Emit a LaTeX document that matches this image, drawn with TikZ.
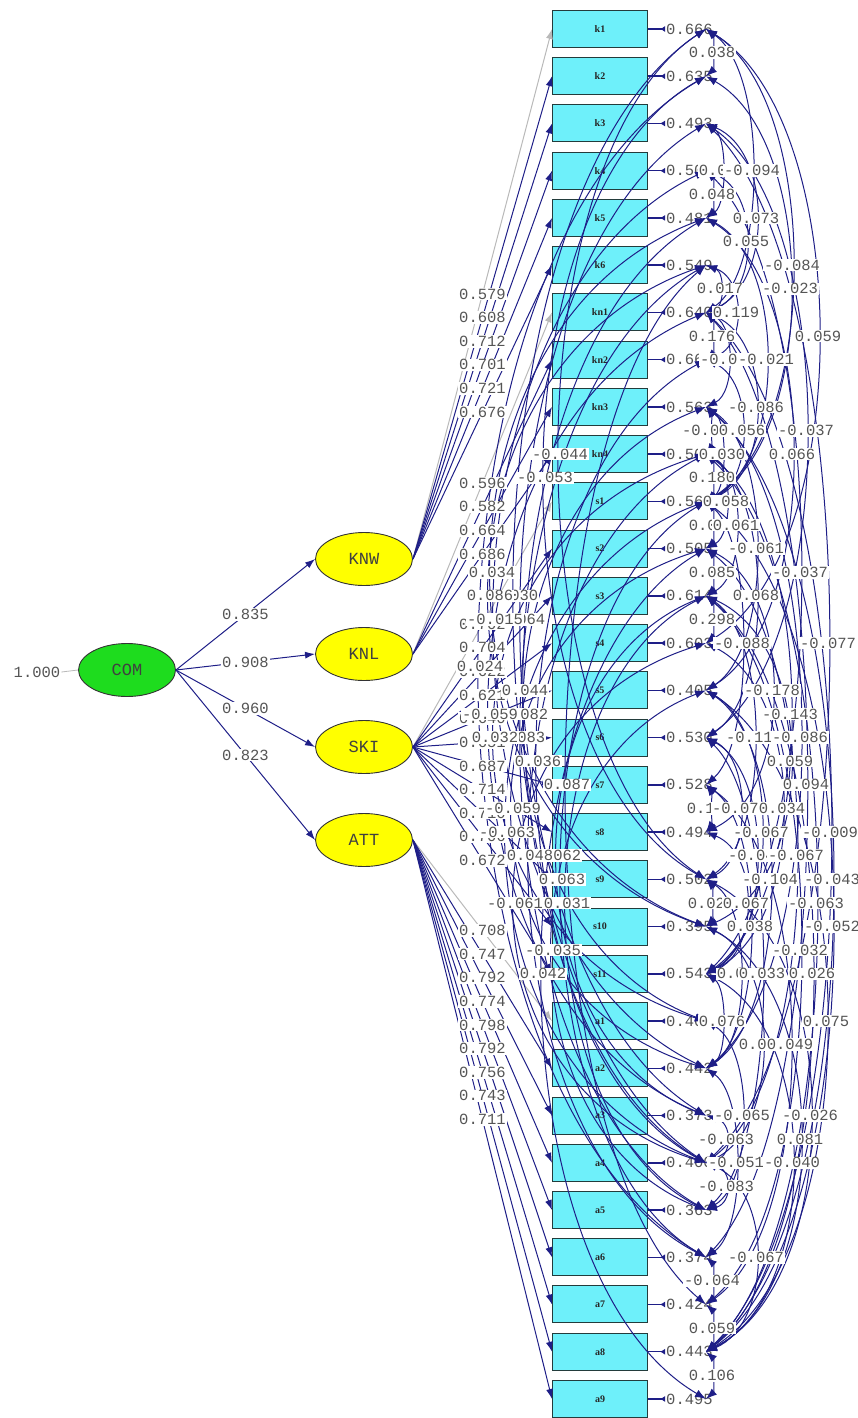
\documentclass[tikz,border=0pt]{standalone}
\usepackage{fontspec}
\usetikzlibrary{shapes.geometric,arrows.meta}
\newfontfamily\labfam{Liberation Mono}
\newfontfamily\serfam{Liberation Serif}
\newcommand{\labfont}{\labfam\fontsize{15.5}{16}\selectfont}
\newcommand{\latfont}{\labfam\fontsize{17}{17}\selectfont}
\newcommand{\boxfont}{\serfam\bfseries\fontsize{10}{10}\selectfont}
\definecolor{navy}{RGB}{30,30,135}
\definecolor{boxc}{RGB}{110,240,250}
\definecolor{boxd}{RGB}{35,60,60}
\definecolor{yel}{RGB}{255,255,0}
\definecolor{grn}{RGB}{30,220,30}
\definecolor{txt}{RGB}{85,85,85}
\definecolor{gline}{RGB}{185,185,185}
\tikzset{
  box/.style={draw=boxd, fill=boxc, minimum width=95pt, minimum height=37pt, inner sep=0pt, line width=1pt, font=\boxfont, text=black!85},
  lat/.style={ellipse, draw=black!80, line width=0.9pt, minimum width=97pt, minimum height=53pt, inner sep=0pt, font=\latfont, text=black!75},
  lab/.style={fill=white, inner sep=1pt, font=\labfont, text=txt},
  errlab/.style={inner sep=1pt, font=\labfont, text=txt},
  load/.style={draw=navy, line width=1pt, -{Latex[length=10pt,width=7pt]}},
  loadg/.style={draw=gline, line width=1pt, -{Latex[length=10pt,width=7pt]}},
  cov/.style={draw=navy, line width=1pt, {Latex[length=11pt,width=8pt]}-{Latex[length=11pt,width=8pt]}},
  erra/.style={draw=navy, line width=1.5pt, -{Latex[reversed,length=5pt,width=6pt]}}
}
\newcommand{\LDline}[4]{\draw[#4] (#1.east) -- (b#2.west);}
\newcommand{\LDlab}[4]{\path (#1.east) -- (b#2.west) node[midway,lab]{#3};}
\newcommand{\ARline}[4]{\draw[cov] (e#1) .. controls ({706+4*(#3)/3},{29+47.24*#1+7.086*(#2-#1)}) and ({706+4*(#3)/3},{29+47.24*#2-7.086*(#2-#1)}) .. (e#2);}
\newcommand{\ARlab}[4]{\path (e#1) .. controls ({706+4*(#3)/3},{29+47.24*#1+7.086*(#2-#1)}) and ({706+4*(#3)/3},{29+47.24*#2-7.086*(#2-#1)}) .. (e#2) node[pos=0.5,lab]{#4};}
\newcommand{\loaddata}{%
\LD{KNW}{0}{0.579}{loadg}\LD{KNW}{1}{0.608}{load}\LD{KNW}{2}{0.712}{load}\LD{KNW}{3}{0.701}{load}\LD{KNW}{4}{0.721}{load}\LD{KNW}{5}{0.676}{load}%
\LD{KNL}{6}{0.596}{loadg}\LD{KNL}{7}{0.582}{load}\LD{KNL}{8}{0.664}{load}\LD{KNL}{9}{0.686}{load}%
\LD{SKI}{10}{0.702}{loadg}\LD{SKI}{11}{0.704}{load}\LD{SKI}{12}{0.622}{load}\LD{SKI}{13}{0.621}{load}\LD{SKI}{14}{0.640}{load}\LD{SKI}{15}{0.651}{load}\LD{SKI}{16}{0.687}{load}\LD{SKI}{17}{0.714}{load}\LD{SKI}{18}{0.710}{load}\LD{SKI}{19}{0.706}{load}\LD{SKI}{20}{0.672}{load}%
\LD{ATT}{21}{0.708}{loadg}\LD{ATT}{22}{0.747}{load}\LD{ATT}{23}{0.792}{load}\LD{ATT}{24}{0.774}{load}\LD{ATT}{25}{0.798}{load}\LD{ATT}{26}{0.792}{load}\LD{ATT}{27}{0.756}{load}\LD{ATT}{28}{0.743}{load}\LD{ATT}{29}{0.711}{load}%
}
\newcommand{\arcdata}{%
\AR{0}{1}{6}{0.038}\AR{2}{4}{16}{0.041}\AR{0}{6}{46}{-0.094}\AR{3}{4}{6}{0.048}\AR{2}{6}{50}{0.073}%
\AR{3}{6}{40}{0.055}\AR{0}{10}{86}{-0.084}\AR{5}{6}{14}{0.017}\AR{1}{10}{84}{-0.023}\AR{5}{7}{30}{0.119}%
\AR{6}{7}{6}{0.176}\AR{0}{13}{112}{0.059}\AR{6}{8}{22}{-0.047}\AR{4}{10}{60}{-0.021}\AR{6}{10}{50}{-0.086}%
\AR{8}{9}{4}{-0.029}\AR{7}{10}{36}{0.056}\AR{2}{15}{100}{-0.037}\AR{8}{10}{16}{0.030}\AR{4}{14}{86}{0.066}%
\AR{9}{10}{6}{0.180}\AR{9}{11}{20}{0.058}\AR{10}{11}{6}{0.019}\AR{9}{12}{30}{0.061}\AR{8}{14}{50}{-0.061}%
\AR{3}{20}{94}{-0.037}\AR{11}{12}{6}{0.085}\AR{9}{15}{50}{0.068}\AR{12}{13}{6}{0.298}\AR{10}{16}{36}{-0.088}%
\AR{2}{24}{122}{-0.077}\AR{11}{17}{66}{-0.178}\AR{9}{20}{84}{-0.143}\AR{12}{18}{48}{-0.112}\AR{8}{22}{94}{-0.086}%
\AR{12}{19}{84}{0.059}\AR{6}{26}{100}{0.094}\AR{16}{17}{4}{0.134}\AR{15}{18}{34}{-0.071}\AR{13}{20}{76}{0.034}%
\AR{14}{20}{55}{-0.067}\AR{6}{28}{124}{-0.009}\AR{15}{20}{50}{-0.045}\AR{11}{24}{90}{-0.067}\AR{14}{22}{64}{-0.104}%
\AR{8}{28}{126}{-0.043}\AR{18}{19}{5}{0.021}\AR{17}{20}{40}{0.067}\AR{9}{28}{110}{-0.063}\AR{16}{22}{44}{0.038}%
\AR{10}{28}{126}{-0.052}\AR{12}{27}{94}{-0.032}\AR{18}{22}{34}{0.047}\AR{15}{25}{56}{0.033}\AR{12}{28}{106}{0.026}%
\AR{20}{22}{16}{0.076}\AR{14}{28}{120}{0.075}\AR{19}{24}{56}{0.029}\AR{16}{27}{84}{0.049}\AR{21}{25}{36}{-0.065}%
\AR{18}{28}{104}{-0.026}\AR{23}{24}{20}{-0.063}\AR{19}{28}{94}{0.081}\AR{22}{26}{30}{-0.051}\AR{20}{28}{86}{-0.040}%
\AR{24}{25}{20}{-0.083}\AR{24}{28}{50}{-0.067}\AR{26}{27}{6}{-0.064}\AR{27}{28}{6}{0.059}\AR{28}{29}{6}{0.106}%
\AR{0}{18}{-146}{-0.044}\AR{1}{18}{-161}{-0.053}\AR{4}{19}{-214}{0.034}\AR{0}{24}{-191}{0.030}\AR{5}{19}{-216}{0.086}%
\AR{2}{23}{-184}{0.064}\AR{3}{22}{-211}{-0.015}\AR{1}{26}{-226}{0.024}\AR{4}{24}{-181}{0.044}\AR{8}{21}{-181}{0.082}%
\AR{6}{23}{-216}{-0.059}\AR{5}{25}{-184}{0.083}\AR{9}{21}{-211}{0.032}\AR{7}{24}{-168}{0.036}\AR{5}{27}{-139}{0.087}%
\AR{11}{22}{-193}{-0.059}\AR{10}{24}{-199}{-0.063}\AR{12}{23}{-148}{0.062}\AR{9}{26}{-176}{0.048}\AR{10}{26}{-144}{0.063}%
\AR{13}{24}{-191}{-0.061}\AR{12}{25}{-139}{0.031}\AR{14}{25}{-153}{-0.035}\AR{11}{29}{-163}{0.042}%
}
\begin{document}
\begin{tikzpicture}[x=1pt,y=-1pt]
\useasboundingbox (0,0) rectangle (858,1418);
% observed-variable boxes
\foreach \i/\t in {0/k1,1/k2,2/k3,3/k4,4/k5,5/k6,6/kn1,7/kn2,8/kn3,9/kn4,10/s1,11/s2,12/s3,13/s4,14/s5,15/s6,16/s7,17/s8,18/s9,19/s10,20/s11,21/a1,22/a2,23/a3,24/a4,25/a5,26/a6,27/a7,28/a8,29/a9}
  {\node[box] (b\i) at (600,{29+47.24*\i}) {\t};}
% latent variables
\node[lat, fill=grn] (COM) at (127,670) {COM};
\node[lat, fill=yel] (KNW) at (364,559) {KNW};
\node[lat, fill=yel] (KNL) at (364,654) {KNL};
\node[lat, fill=yel] (SKI) at (364,747) {SKI};
\node[lat, fill=yel] (ATT) at (364,840) {ATT};
\node[errlab] (one) at (37,672) {1.000};
\draw[gline, line width=0.8pt] (one.east) -- (COM.west);
% error variances
\foreach \i/\v in {0/0.666,1/0.635,2/0.493,3/0.506,4/0.481,5/0.549,6/0.640,7/0.662,8/0.563,9/0.508,10/0.562,11/0.505,12/0.614,13/0.603,14/0.405,15/0.530,16/0.528,17/0.494,18/0.502,19/0.395,20/0.543,21/0.401,22/0.442,23/0.373,24/0.400,25/0.363,26/0.374,27/0.424,28/0.443,29/0.495}
  {\node[errlab, anchor=west] (r\i) at (665,{29+47.24*\i}) {\v};
   \draw[erra] (b\i.east) -- (r\i.west);
   \coordinate (e\i) at (706,{29+47.24*\i});}
% structural paths
\draw[load] (COM.east) -- (KNW.west);
\draw[load] (COM.east) -- (KNL.west);
\draw[load] (COM.east) -- (SKI.west);
\draw[load] (COM.east) -- (ATT.west);
% loadings
\let\LD\LDline \loaddata
% error covariances
\let\AR\ARline \arcdata
% labels on top
\path (COM.east) -- (KNW.west) node[midway,lab]{0.835};
\path (COM.east) -- (KNL.west) node[midway,lab]{0.908};
\path (COM.east) -- (SKI.west) node[midway,lab]{0.960};
\path (COM.east) -- (ATT.west) node[midway,lab]{0.823};
\let\LD\LDlab \loaddata
\let\AR\ARlab \arcdata
\end{tikzpicture}
\end{document}
